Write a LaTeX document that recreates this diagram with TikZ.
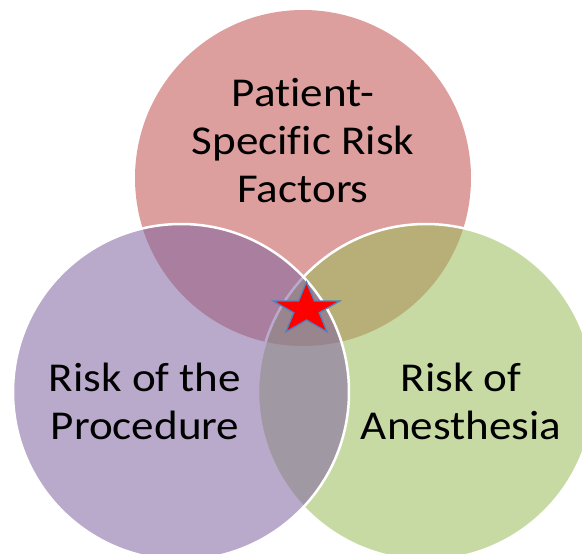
\documentclass[tikz,border=0pt]{standalone}
\usepackage{fontspec}
\setmainfont[Ligatures={NoCommon,NoDiscretionary}]{Carlito}
\usepackage{xcolor}
\usetikzlibrary{shapes.geometric}
\definecolor{RiskRed}{HTML}{C0504D}
\definecolor{RiskPurple}{HTML}{8064A2}
\definecolor{RiskGreen}{HTML}{9BBB59}
\definecolor{RiskStar}{HTML}{FF0000}
\definecolor{RiskEdge}{HTML}{4F81BD}

\begin{document}
\begin{tikzpicture}[x=1pt,y=-1pt,
  riskcircle/.style={fill opacity=0.55,draw=white,line width=2.5pt},
  risklabel/.style={font=\fontsize{41}{48}\selectfont,align=center,inner sep=0pt,text=black,xscale=1.1}]
  \useasboundingbox (0,0) rectangle (582,554);
  \clip (0,0) rectangle (582,554);

  % the three risk circles
  \fill[riskcircle,draw=none,fill=RiskRed] (303,178) circle (168);
  \draw[riskcircle,fill=RiskGreen] (426,392) circle (168);
  \draw[riskcircle,fill=RiskPurple] (181,392) circle (168);

  \node[risklabel] (patient) at (303,141) {Patient-\\Specific Risk\\Factors};
  \node[risklabel] (procedure) at (145,401) {Risk of the\\Procedure};
  \node[risklabel] (anesthesia) at (461,401) {Risk of\\Anesthesia};

  % common point of all three
  \node[star,star points=5,star point ratio=2.62,minimum size=55pt,inner sep=0pt,
        xscale=1.27,fill=RiskStar,draw=RiskEdge,line width=1.3pt] (overlap) at (306.5,309.5) {};
\end{tikzpicture}
\end{document}
